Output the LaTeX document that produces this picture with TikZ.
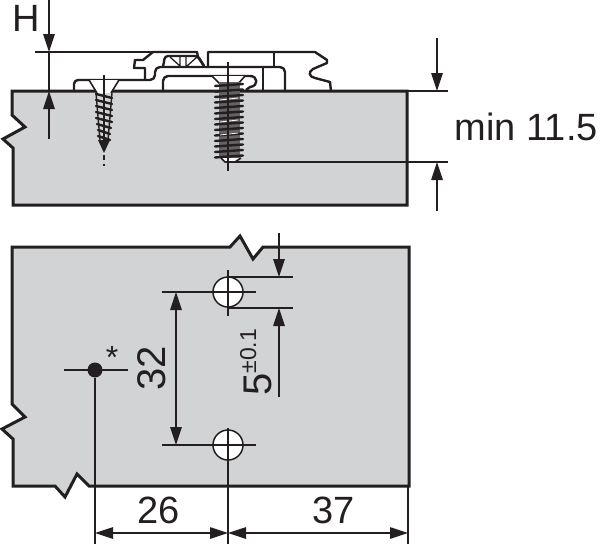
\documentclass[tikz,border=0pt]{standalone}
\usepackage{fontspec}
\setmainfont{Liberation Sans}
\usetikzlibrary{arrows.meta}
\definecolor{panelgray}{RGB}{209,211,212}
\definecolor{inkblack}{RGB}{35,31,32}
\tikzset{
  >={Triangle[length=18pt,width=11.5pt]},
  panel/.style   = { fill=panelgray, draw=inkblack, line width=3pt, miter limit=4 },
  profile/.style = { draw=inkblack, line width=2.4pt, line join=round },
  thin_part/.style = { draw=inkblack, line width=1.3pt },
  dimline/.style = { draw=inkblack, line width=1.2pt },
  dimtext/.style = { text=inkblack, font=\fontsize{38}{38}\selectfont, inner sep=0pt },
  thread/.style  = { draw=inkblack, line width=2.4pt, line cap=round }
}
\begin{document}
\begin{tikzpicture}[x=1pt,y=-1pt]
  \useasboundingbox (0,0) rectangle (600,544);
  % the two panels
  \draw[panel] (12,91) -- (407,91) -- (407,205) -- (13,205) -- (13,148) -- (3,139) -- (25,127) -- (12,115) -- cycle;
  \draw[panel] (12,247) -- (230,247) -- (240,236) -- (253,259) -- (263,247) -- (409,247) -- (409,486)
    -- (89,486) -- (77,474) -- (65,497) -- (55,486) -- (13,486) -- (13,439) -- (2,429) -- (25,417) -- (12,404) -- cycle;
  % bracket on the upper panel
  \draw[profile,rounded corners=4pt] (74,91) -- (74,80) -- (145,80);
  \draw[profile] (145,80) -- (145,68) -- (134,68) -- (135,60) -- (143,60) -- (153,52) -- (197,52) -- (198,57) -- (204,66);
  \draw[profile,rounded corners=5pt] (145,80) -- (155,80) -- (155,67) -- (285,67) -- (285,91);
  \draw[profile,rounded corners=3pt] (163,67) -- (165,56) -- (198,56) -- (204,66);
  \draw[thin_part] (170,57) -- (180,66) (180,57) -- (180,66) (186,57) -- (186,66) (197,57) -- (187,66);
  \draw[profile] (208,66) -- (208,52) -- (315,52) -- (327,60) -- (327,63) -- (313,69)
    .. controls (308,72) and (309,77) .. (315,78) -- (330,82) -- (331,91);
  \draw[thin_part] (274,52) -- (274,67);
  \draw[thin_part] (263,68) -- (263,91);
  \draw[profile,rounded corners=5pt] (163,91) -- (163,76) -- (250,76);
  \draw[profile] (250,76) .. controls (258,76) and (259,86) .. (250,87) -- (246,90);
  % wood screw
  \fill[white] (90,80) -- (118,80) -- (111,93) -- (97,93) -- cycle;
  \draw[profile,line width=1.6pt] (89,80) -- (97,93) (119,80) -- (111,93);
  \foreach \yy/\hw in {96/8,102/8,108/8,114/8,120/8,126/7,132/6,138/6}
    \draw[thread] (104-\hw,\yy-2) -- (104+\hw,\yy+2);
  \draw[thread,line width=1.4pt] (96,93) -- (100,140) (112,93) -- (108,140);
  \fill[inkblack] (98,140) -- (110,140) -- (104,153) -- cycle;
  \draw[dimline] (104,75) -- (104,150);
  \draw[dimline] (104,155) -- (104,160) (104,164) -- (104,166);
  % machine screw
  \fill[white] (213,76) -- (245,76) -- (238,84) -- (220,84) -- cycle;
  \draw[profile,line width=1.6pt] (212,76) -- (220,84) (245,76) -- (238,84);
  \fill[inkblack!70] (219,82) rectangle (240,158);
  \foreach \yy in {85,90.5,...,158}
    \draw[thread] (215,\yy+1) -- (243,\yy-1);
  \draw[profile,line width=1.6pt,fill=white] (221,158) -- (225,162) -- (235,162) -- (241,158);
  \draw[dimline,draw=white,line width=.8pt] (220,100) -- (238,98) (220,122) -- (238,120) (220,135) -- (238,133);
  % upper dimensions
  \coordinate (hTop) at (49,0);
  \coordinate (hEdge) at (49,52);
  \coordinate (hFace) at (49,91);
  \coordinate (hTail) at (49,139);
  \coordinate (depthA) at (437,38);
  \coordinate (depthB) at (437,91);
  \coordinate (depthC) at (437,162);
  \coordinate (depthD) at (437,211);
  \draw[dimline] (35,52) -- (197,52);
  \draw[dimline] (407,91) -- (448,91);
  \draw[dimline] (234,162) -- (448,162);
  \draw[dimline] (228,62) -- (228,171);
  \draw[dimline,->] (hTop) -- (hEdge);
  \draw[dimline] (hEdge) -- (hFace);
  \draw[dimline,->] (hTail) -- (hFace);
  \draw[dimline,->] (depthA) -- (depthB);
  \draw[dimline,->] (depthD) -- (depthC);
  \node[dimtext] (labelH) at (26,18.5) {H};
  \node[dimtext,anchor=east] (labelMin) at (598,127) {min 11.5};
  % holes and marked point
  \node[circle,draw=inkblack,fill=white,line width=1.5pt,minimum size=30pt,inner sep=0pt] (holeA) at (228,292) {};
  \node[circle,draw=inkblack,fill=white,line width=1.5pt,minimum size=30pt,inner sep=0pt] (holeB) at (228,445) {};
  \node[circle,fill=inkblack,minimum size=15pt,inner sep=0pt] (pointP) at (95,370) {};
  \draw[dimline] (162,292) -- (256,292);
  \draw[dimline] (162,445) -- (256,445);
  \draw[dimline] (64,370) -- (128,370);
  \draw[dimline] (228,270) -- (228,316);
  \draw[dimline] (228,428) -- (228,544);
  \draw[dimline] (pointP) -- (95,544);
  \draw[dimline] (408,486) -- (408,544);
  \draw[dimline] (228,277) -- (293,277);
  \draw[dimline] (228,308) -- (293,308);
  % lower dimensions
  \coordinate (spanTop) at (176,292);
  \coordinate (spanBot) at (176,445);
  \coordinate (slotA) at (279,233);
  \coordinate (slotB) at (279,277);
  \coordinate (slotC) at (279,308);
  \coordinate (slotD) at (279,397);
  \coordinate (baseL) at (95,533);
  \coordinate (baseM) at (228,533);
  \coordinate (baseR) at (408,533);
  \draw[dimline,<->] (spanTop) -- (spanBot);
  \draw[dimline,->] (slotA) -- (slotB);
  \draw[dimline,->] (slotD) -- (slotC);
  \draw[dimline,<->] (baseL) -- (baseM);
  \draw[dimline,<->] (baseM) -- (baseR);
  \node[dimtext,font=\fontsize{40}{40}\selectfont,rotate=90] (label32) at (152,368) {32};
  \node[dimtext,font=\fontsize{40}{40}\selectfont,rotate=90,anchor=base west] (labelFive) at (271,396)
    {5\raisebox{15pt}{\fontsize{23}{23}\selectfont ±0.1}};
  \node[dimtext] (label26) at (159,510) {26};
  \node[dimtext] (label37) at (334,510) {37};
  \node[dimtext,font=\fontsize{32}{32}\selectfont,anchor=north] (labelStar) at (112,346) {*};
\end{tikzpicture}
\end{document}
